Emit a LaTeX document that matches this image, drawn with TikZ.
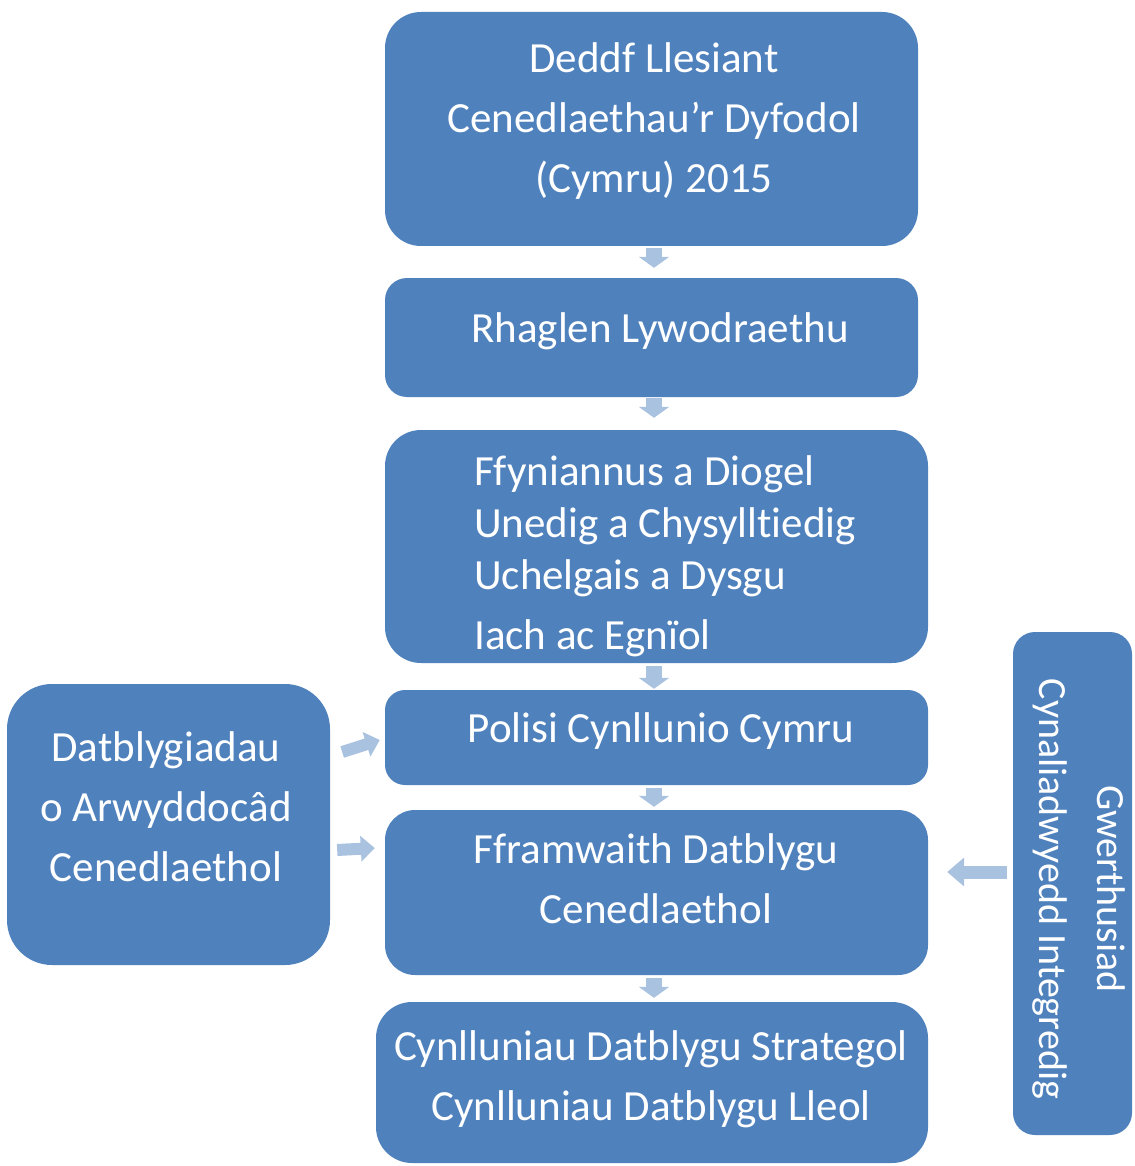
\documentclass[tikz,border=0pt]{standalone}
\usepackage{fontspec}
\setmainfont[Ligatures=NoCommon]{Carlito}
\usetikzlibrary{arrows.meta,calc}
\definecolor{boxblue}{HTML}{4F81BD}
\definecolor{arrowblue}{HTML}{A9C2E0}
\tikzset{
  box/.style={draw=none, fill=boxblue, inner sep=0pt, anchor=center},
  lbl/.style={text=white, inner sep=0pt, font=\fontsize{43}{60}\selectfont},
  downarr/.style={draw=arrowblue, line width=16pt, -{Triangle[width=30pt,length=11pt]}},
  sidearr/.style={draw=arrowblue, line width=12pt, -{Triangle[width=25pt,length=14pt]}},
  backarr/.style={draw=arrowblue, line width=13pt, -{Triangle[width=28pt,length=17pt]}}
}
\begin{document}
\begin{tikzpicture}[x=1pt,y=-1pt]
\useasboundingbox (0,0) rectangle (1134,1166);
% boxes
\node[box, minimum width=533pt, minimum height=234pt, rounded corners=36pt] (b1) at (651.5,129) {};
\node[box, minimum width=533pt, minimum height=119pt, rounded corners=22pt] (b2) at (651.5,337.5) {};
\node[box, minimum width=543pt, minimum height=233pt, rounded corners=36pt] (b3) at (656.5,546.5) {};
\node[box, minimum width=543pt, minimum height=95pt, rounded corners=20pt] (b4) at (656.5,737.5) {};
\node[box, minimum width=543pt, minimum height=165pt, rounded corners=30pt] (b5) at (656.5,892.5) {};
\node[box, minimum width=552pt, minimum height=161pt, rounded corners=36pt] (b6) at (652,1082.5) {};
\node[box, minimum width=323pt, minimum height=281pt, rounded corners=45pt] (lb) at (168.5,824.5) {};
\node[box, minimum width=119pt, minimum height=503pt, rounded corners=22pt] (rb) at (1072.5,883.5) {};
% texts
\node[lbl, align=center] (t1) at (654,121) {Deddf Llesiant\\Cenedlaethau’r Dyfodol\\(Cymru) 2015};
\node[lbl] (t2) at (660,331) {Rhaglen Lywodraethu};
\node[lbl, align=left, anchor=west, font=\fontsize{43}{52}\selectfont] (t3) at (474,556) {Ffyniannus a Diogel\\Unedig a Chysylltiedig\\Uchelgais a Dysgu\\[8pt]Iach ac Egnïol};
\node[lbl] (t4) at (661,731) {Polisi Cynllunio Cymru};
\node[lbl, align=center] (t5) at (656,879) {Fframwaith Datblygu\\Cenedlaethol};
\node[lbl, align=center] (t6) at (651,1079) {Cynlluniau Datblygu Strategol\\Cynlluniau Datblygu Lleol};
\node[lbl, align=center] (tl) at (166,807) {Datblygiadau\\o Arwyddocâd\\Cenedlaethol};
\node[lbl, align=center, rotate=-90, font=\fontsize{40}{58}\selectfont] (tr) at (1079,889) {Gwerthusiad\\Cynaliadwyedd Integredig};
% arrows
\coordinate (ax) at (654,0);
\draw[downarr, shorten <=2pt, shorten >=10pt] (b1.south -| ax) -- (b2.north -| ax);
\draw[downarr, shorten <=1pt, shorten >=12pt] (b2.south -| ax) -- (b3.north -| ax);
\draw[downarr, shorten <=3pt, shorten >=1pt] (b3.south -| ax) -- (b4.north -| ax);
\draw[downarr, shorten <=3pt, shorten >=3pt] (b4.south -| ax) -- (b5.north -| ax);
\draw[downarr, shorten <=3pt, shorten >=4pt] (b5.south -| ax) -- (b6.north -| ax);
\draw[sidearr] ($(lb.east)+(12,-72.5)$) -- ($(b4.west)+(-5,2.5)$);
\draw[sidearr] ($(lb.east)+(7,25.5)$) -- ($(b5.west)+(-10,-44.5)$);
\draw[backarr] ($(rb.west)+(-6,-11.5)$) -- ($(b5.east)+(19,-20.5)$);
\end{tikzpicture}
\end{document}
